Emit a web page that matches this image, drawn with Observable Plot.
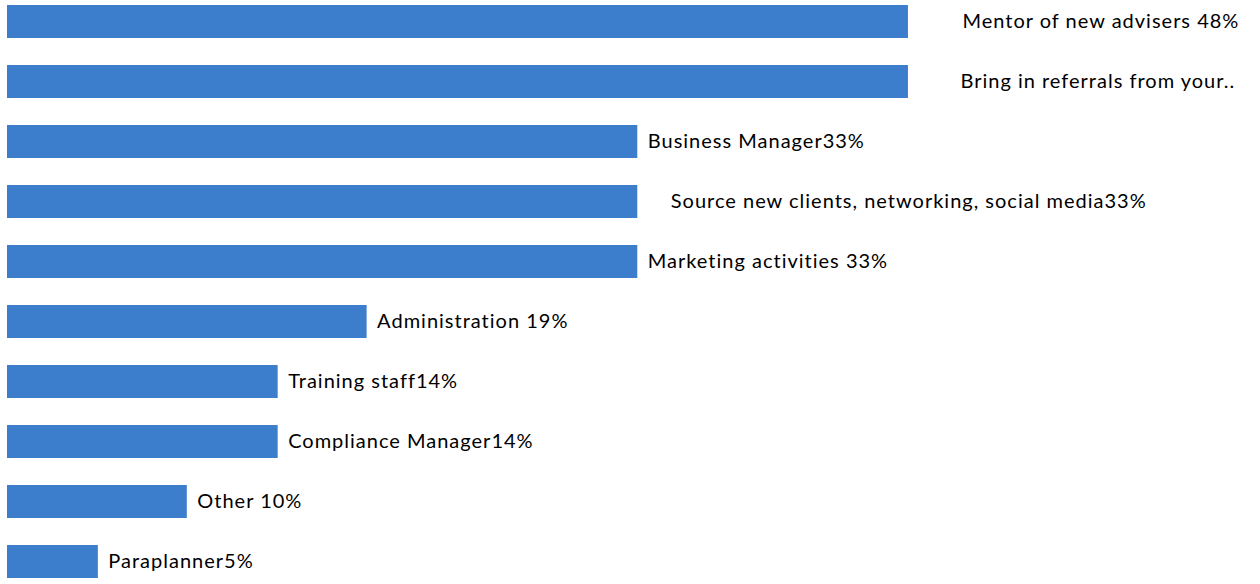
<!DOCTYPE html>
<html>
<head>
<meta charset="utf-8">
<script src="https://cdn.jsdelivr.net/npm/d3@7"></script>
<script src="https://cdn.jsdelivr.net/npm/@observablehq/plot@0.6"></script>
<style>
  html, body { margin: 0; padding: 0; background: #fff; }
  #chart svg { display: block; }
  #chart svg text { letter-spacing: 1px; }
</style>
</head>
<body>
<div id="chart"></div>
<script>
// Categories (top to bottom)
const categories = [
  "Mentor of new advisers",
  "Bring in referrals",
  "Business Manager",
  "Source new clients",
  "Marketing activities",
  "Administration",
  "Training staff",
  "Compliance Manager",
  "Other",
  "Paraplanner"
];
// Share of respondents (%)
const values = [47.6, 47.6, 33.3, 33.3, 33.3, 19.0, 14.3, 14.3, 9.5, 4.8];
// Label texts as shown in the chart
const labels = [
  "Mentor of new advisers 48%",
  "Bring in referrals from your..",
  "Business Manager33%",
  "Source new clients, networking, social media33%",
  "Marketing activities 33%",
  "Administration 19%",
  "Training staff14%",
  "Compliance Manager14%",
  "Other 10%",
  "Paraplanner5%"
];

const data = categories.map((c, i) => ({category: c, value: values[i], label: labels[i]}));

// label offset from the bar end (styling, not data)
const labelDx = d => d.category === "Mentor of new advisers" ? 54
  : d.category === "Bring in referrals" ? 52
  : d.category === "Source new clients" ? 33
  : 10;

const chart = Plot.plot({
  width: 1260,
  height: 584,
  marginLeft: 7,
  marginRight: 0,
  marginTop: 0,
  marginBottom: 0,
  style: {fontFamily: "Lato, 'Open Sans', sans-serif", background: "#fff"},
  x: {domain: [0, 66.2], axis: null},
  y: {domain: categories, axis: null, padding: 0.45, range: [-22, 605], round: false},
  marks: [
    Plot.barX(data, {x: "value", y: "category", fill: "#3d7ecc"}),
    ...data.map(d => Plot.text([d], {
      x: "value", y: "category", text: "label",
      textAnchor: "start", dx: labelDx(d),
      fontSize: 20, fill: "#000"
    }))
  ]
});
document.getElementById("chart").append(chart);
</script>
</body>
</html>
